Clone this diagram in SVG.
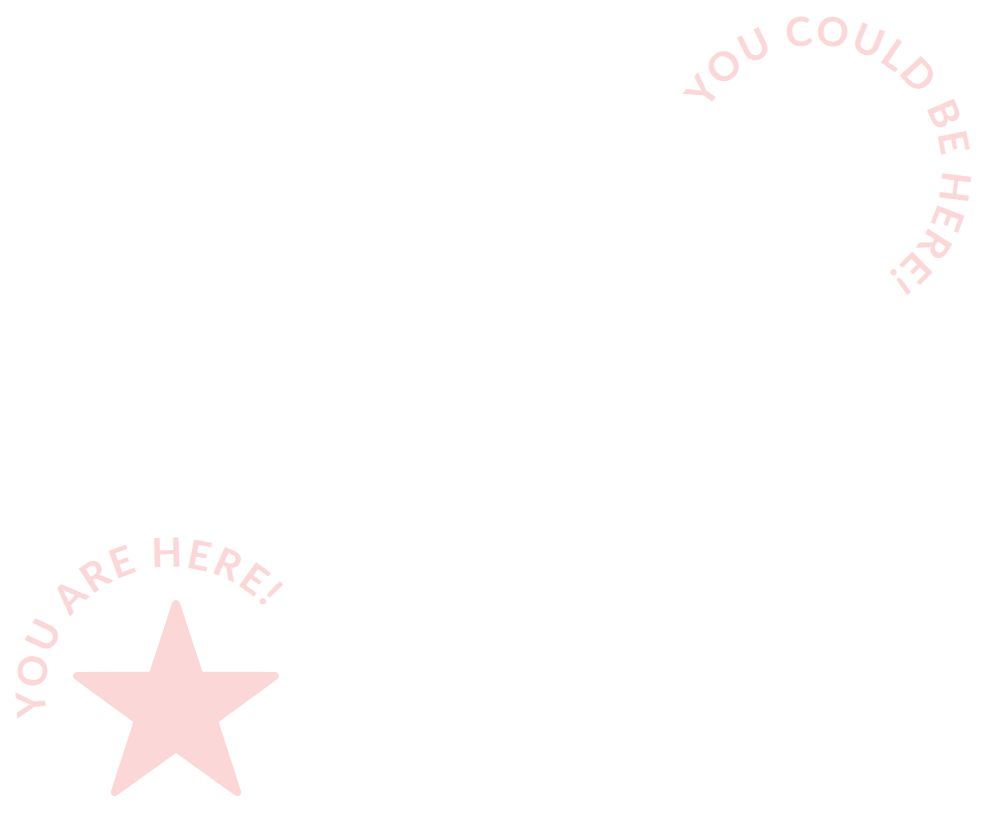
<svg xmlns="http://www.w3.org/2000/svg" width="986" height="815" viewBox="0 0 986 815">
<style>
.lbl{font-family:"Lato","Open Sans","Liberation Sans",sans-serif;font-weight:700;font-size:40px;fill:#fcd7d7;}
.star{fill:#fcd7d7;stroke:#fcd7d7;stroke-width:8;stroke-linejoin:round;}
</style>
<defs>
<path id="arc1" d="M52.7,737.4 A127,127 0 1 1 299,694"/>
<path id="arc2" d="M696.3,137.6 A125,125 0 1 1 879.5,278.3"/>
</defs>
<rect width="986" height="815" fill="#ffffff"/>
<g id="star">
<polygon class="star" points="176,604 199.5,675.6 274.9,675.9 214,720.4 237.1,792.1 176,748 114.9,792.1 138,720.4 77.1,675.9 152.5,675.6"/>
</g>
<g id="you-are-here">
<text class="lbl" letter-spacing="2.6"><textPath href="#arc1" startOffset="22">YOU ARE HERE!</textPath></text>
</g>
<g id="you-could-be-here">
<text class="lbl" letter-spacing="2.0"><textPath href="#arc2" startOffset="29.5">YOU COULD BE HERE!</textPath></text>
</g>
</svg>
